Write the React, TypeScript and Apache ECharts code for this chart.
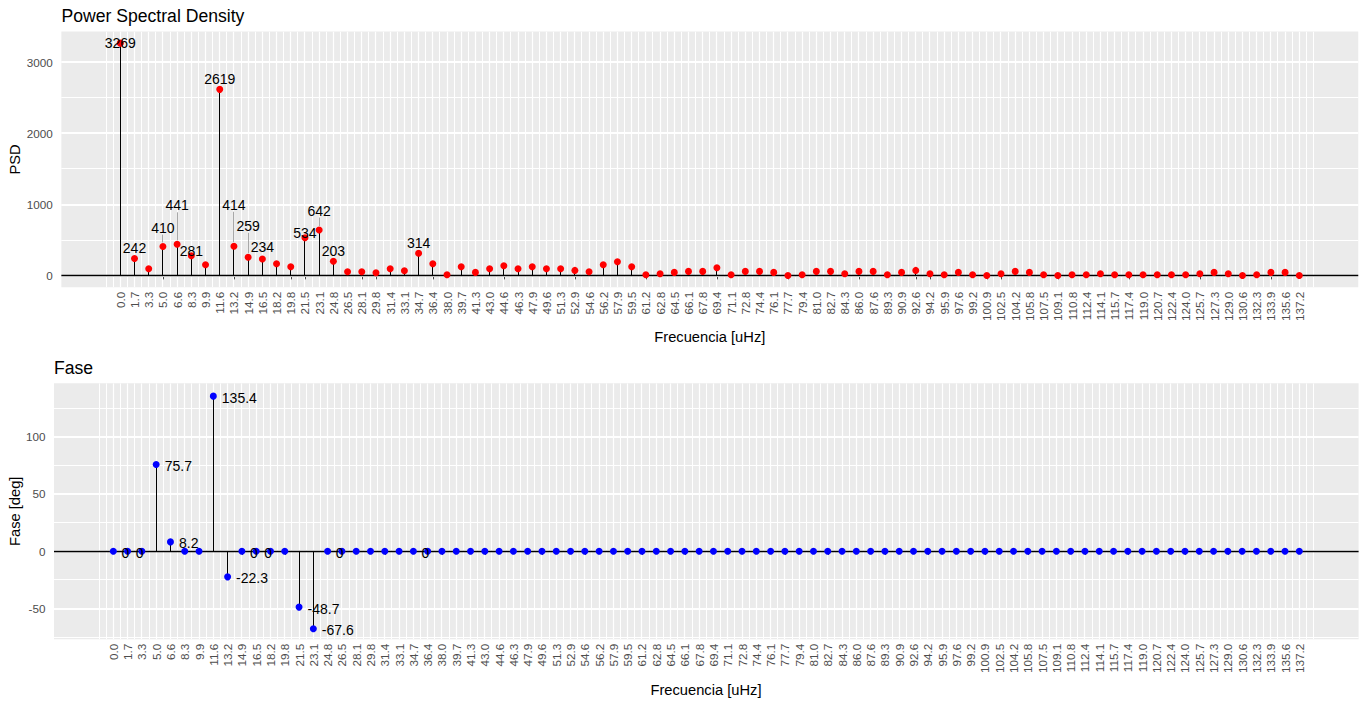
import React, { useEffect, useRef } from "react";
import * as echarts from "echarts";

// ---------- data ----------
const FREQ_LABELS = [
  "0.0", "1.7", "3.3", "5.0", "6.6", "8.3", "9.9", "11.6", "13.2", "14.9",
  "16.5", "18.2", "19.8", "21.5", "23.1", "24.8", "26.5", "28.1", "29.8", "31.4",
  "33.1", "34.7", "36.4", "38.0", "39.7", "41.3", "43.0", "44.6", "46.3", "47.9",
  "49.6", "51.3", "52.9", "54.6", "56.2", "57.9", "59.5", "61.2", "62.8", "64.5",
  "66.1", "67.8", "69.4", "71.1", "72.8", "74.4", "76.1", "77.7", "79.4", "81.0",
  "82.7", "84.3", "86.0", "87.6", "89.3", "90.9", "92.6", "94.2", "95.9", "97.6",
  "99.2", "100.9", "102.5", "104.2", "105.8", "107.5", "109.1", "110.8", "112.4", "114.1",
  "115.7", "117.4", "119.0", "120.7", "122.4", "124.0", "125.7", "127.3", "129.0", "130.6",
  "132.3", "133.9", "135.6", "137.2",
];

const PSD = [
  3269, 242, 98, 410, 441, 281, 154, 2619, 414, 259,
  234, 168, 126, 534, 642, 203, 56, 56, 42, 98,
  70, 314, 168, 14, 126, 46, 98, 140, 98, 126,
  98, 98, 74, 56, 154, 196, 126, 14, 28, 46,
  60, 60, 112, 14, 60, 60, 46, 2, 14, 60,
  60, 28, 60, 60, 14, 46, 74, 28, 14, 46,
  14, 2, 28, 60, 46, 14, 2, 14, 14, 28,
  14, 14, 14, 14, 14, 14, 28, 46, 28, 2,
  14, 46, 46, 2,
];

const PHASE = [
  0, 0, 0, 75.7, 8.2, 0, 0, 135.4, -22.3, 0,
  0, 0, 0, -48.7, -67.6, 0, 0, 0, 0, 0,
  0, 0, 0, 0, 0, 0, 0, 0, 0, 0,
  0, 0, 0, 0, 0, 0, 0, 0, 0, 0,
  0, 0, 0, 0, 0, 0, 0, 0, 0, 0,
  0, 0, 0, 0, 0, 0, 0, 0, 0, 0,
  0, 0, 0, 0, 0, 0, 0, 0, 0, 0,
  0, 0, 0, 0, 0, 0, 0, 0, 0, 0,
  0, 0, 0, 0,
];

const PSD_LABELED = [0, 1, 3, 4, 5, 7, 8, 9, 10, 13, 14, 15, 21];
const PHASE_LABELED = [1, 2, 3, 4, 7, 8, 10, 11, 13, 14, 16, 22];

const PSD_TICKS = [0, 1000, 2000, 3000];
const PSD_MINOR = [500, 1500, 2500];
const PHASE_TICKS = [-50, 0, 50, 100];
const PHASE_MINOR = [-75, -25, 25, 75, 125];

// ---------- styling / layout ----------
const FONT = "'Liberation Sans', Arial, Helvetica, sans-serif";
const PANEL_BG = "#EBEBEB";
const AXIS_TEXT = "#4D4D4D";
const TICK_COLOR = "#333333";
// vertical pixel offsets of the repelled PSD labels (label centre relative to point)
const PSD_LABEL_DY: Record<number, number> = {
  0: 0, 1: -10, 3: -19, 4: -39, 5: -5, 7: -10, 8: -41.5, 9: -31.5,
  10: -12, 13: -5, 14: -19.5, 15: -10, 21: -10,
};

const snap = (v: number) => Math.round(v - 0.5) + 0.5;

export default function App() {
  const ref = useRef<HTMLDivElement>(null);

  useEffect(() => {
    if (!ref.current) return;
    const chart = echarts.init(ref.current, undefined, { renderer: "svg" });

    const idx = FREQ_LABELS.map((_, i) => i);
    const n = FREQ_LABELS.length;
    const vGrid: number[][] = [];
    for (let k = -2; k <= 2 * n; k++) {
      const p = k / 2;
      const major = k % 2 === 0 && p >= 0 && p <= n - 1 ? 1 : 0;
      vGrid.push([p, 0, major]);
    }

    const xAxisBase = (gi: number) => ({
      type: "value",
      gridIndex: gi,
      min: -4.15,
      max: n - 1 + 4.15,
      axisLine: { show: false },
      axisTick: {
        show: true,
        customValues: idx,
        length: 3.7,
        lineStyle: { color: TICK_COLOR, width: 1 },
      },
      axisLabel: {
        customValues: idx,
        rotate: 90,
        margin: 4.5,
        color: AXIS_TEXT,
        fontSize: 11.7,
        fontFamily: FONT,
        formatter: (v: number) => FREQ_LABELS[Math.round(v)] ?? "",
      },
      splitLine: { show: false },
      minorSplitLine: { show: false },
    });

    const yAxisBase = (gi: number, min: number, max: number, ticks: number[]) => ({
      type: "value",
      gridIndex: gi,
      min,
      max,
      axisLine: { show: false },
      axisTick: {
        show: true,
        customValues: ticks,
        length: 4,
        lineStyle: { color: TICK_COLOR, width: 1 },
      },
      axisLabel: {
        customValues: ticks,
        margin: 8.5,
        color: AXIS_TEXT,
        fontSize: 11.7,
        fontFamily: FONT,
        formatter: (v: number) => String(v),
      },
      splitLine: { show: false },
      minorSplitLine: { show: false },
    });

    const gridSeries = (gi: number, major: number[], minor: number[]) => [
      {
        type: "custom",
        xAxisIndex: gi,
        yAxisIndex: gi,
        z: 1,
        silent: true,
        clip: true,
        data: vGrid,
        encode: { x: 0, y: 1 },
        renderItem: (params: any, api: any) => {
          const cs = params.coordSys;
          const x = snap(api.coord([api.value(0), 0])[0]);
          const isMajor = api.value(2) === 1;
          return {
            type: "line",
            shape: { x1: x, y1: cs.y, x2: x, y2: cs.y + cs.height },
            style: { stroke: "#FFFFFF", lineWidth: isMajor ? 1.2 : 1 },
          };
        },
      },
      {
        type: "custom",
        xAxisIndex: gi,
        yAxisIndex: gi,
        z: 1,
        silent: true,
        clip: true,
        data: [...major.map((v) => [0, v, 1]), ...minor.map((v) => [0, v, 0])],
        encode: { x: 0, y: 1 },
        renderItem: (params: any, api: any) => {
          const cs = params.coordSys;
          const isMajor = api.value(2) === 1;
          const yRaw = api.coord([0, api.value(1)])[1];
          const y = isMajor ? Math.round(yRaw) : snap(yRaw);
          return {
            type: "line",
            shape: { x1: cs.x, y1: y, x2: cs.x + cs.width, y2: y },
            style: { stroke: "#FFFFFF", lineWidth: isMajor ? 2 : 1 },
          };
        },
      },
      {
        // horizontal reference line at 0
        type: "custom",
        xAxisIndex: gi,
        yAxisIndex: gi,
        z: 2,
        silent: true,
        data: [[0, 0]],
        encode: { x: 0, y: 1 },
        renderItem: (params: any, api: any) => {
          const cs = params.coordSys;
          const y = snap(api.coord([0, 0])[1]);
          return {
            type: "line",
            shape: { x1: cs.x, y1: y, x2: cs.x + cs.width, y2: y },
            style: { stroke: "#000000", lineWidth: 1.3 },
          };
        },
      },
    ];

    const stemSeries = (gi: number, values: number[]) => ({
      type: "custom",
      xAxisIndex: gi,
      yAxisIndex: gi,
      z: 2,
      silent: true,
      data: values.map((v, i) => [i, v]),
      encode: { x: 0, y: 1 },
      renderItem: (params: any, api: any) => {
        const p0 = api.coord([api.value(0), 0]);
        const p1 = api.coord([api.value(0), api.value(1)]);
        const x = snap(p0[0]);
        return {
          type: "line",
          shape: { x1: x, y1: p0[1], x2: x, y2: p1[1] },
          style: { stroke: "#000000", lineWidth: 1 },
        };
      },
    });

    const labelFont = { color: "#000000", fontSize: 14, fontFamily: FONT };

    const psdPoints = PSD.map((v, i) =>
      PSD_LABELED.includes(i)
        ? {
            value: [i, v],
            label: {
              show: true,
              formatter: String(v),
              position: "inside",
              offset: [0, PSD_LABEL_DY[i] ?? -10],
              ...labelFont,
            },
          }
        : { value: [i, v] }
    );

    const phasePoints = PHASE.map((v, i) => {
      if (!PHASE_LABELED.includes(i)) return { value: [i, v] };
      if (v === 0) {
        return {
          value: [i, v],
          label: {
            show: true,
            formatter: "0",
            position: "inside",
            offset: [-2.3, 2.2],
            ...labelFont,
          },
        };
      }
      return {
        value: [i, v],
        label: {
          show: true,
          formatter: v.toFixed(1),
          position: "right",
          distance: 5,
          offset: [0, 1.5],
          ...labelFont,
        },
      };
    });

    const segData = PSD_LABELED.filter((i) => Math.abs(PSD_LABEL_DY[i] ?? 0) > 15).map(
      (i) => [i, PSD[i], PSD_LABEL_DY[i]]
    );

    const option: any = {
      animation: false,
      backgroundColor: "#FFFFFF",
      textStyle: { fontFamily: FONT },
      grid: [
        {
          left: 61.35,
          right: 7.75,
          top: 31.5,
          height: 255.8,
          show: true,
          backgroundColor: PANEL_BG,
          borderWidth: 0,
          containLabel: false,
          outerBoundsMode: "none",
        },
        {
          left: 54,
          right: 7.4,
          top: 383.3,
          height: 256,
          show: true,
          backgroundColor: PANEL_BG,
          borderWidth: 0,
          containLabel: false,
          outerBoundsMode: "none",
        },
      ],
      xAxis: [xAxisBase(0), xAxisBase(1)],
      yAxis: [
        yAxisBase(0, -163.45, 3432.45, PSD_TICKS),
        yAxisBase(1, -76.8, 146.6, PHASE_TICKS),
      ],
      series: [
        ...gridSeries(0, PSD_TICKS, PSD_MINOR),
        ...gridSeries(1, PHASE_TICKS, PHASE_MINOR),
        stemSeries(0, PSD),
        stemSeries(1, PHASE),
        {
          // repel segments from labels to points
          type: "custom",
          xAxisIndex: 0,
          yAxisIndex: 0,
          z: 2,
          silent: true,
          data: segData,
          encode: { x: 0, y: 1 },
          renderItem: (params: any, api: any) => {
            const p = api.coord([api.value(0), api.value(1)]);
            const dy = api.value(2);
            const x = snap(p[0]);
            return {
              type: "line",
              shape: { x1: x, y1: p[1] - 4, x2: x, y2: p[1] + dy + 7 },
              style: { stroke: "#A8A8A8", lineWidth: 1 },
            };
          },
        },
        {
          type: "scatter",
          xAxisIndex: 0,
          yAxisIndex: 0,
          z: 3,
          silent: true,
          symbol: "circle",
          symbolSize: 7,
          itemStyle: { color: "#FF0000", opacity: 1 },
          label: { show: false },
          data: psdPoints,
        },
        {
          type: "scatter",
          xAxisIndex: 1,
          yAxisIndex: 1,
          z: 3,
          silent: true,
          symbol: "circle",
          symbolSize: 7,
          itemStyle: { color: "#0000FF", opacity: 1 },
          label: { show: false },
          data: phasePoints,
        },
      ],
      graphic: [
        {
          type: "text",
          left: 61.5,
          top: 7,
          style: { text: "Power Spectral Density", fill: "#000", fontSize: 17.6, fontFamily: FONT },
        },
        {
          type: "text",
          left: 54,
          top: 358.5,
          style: { text: "Fase", fill: "#000", fontSize: 17.6, fontFamily: FONT },
        },
        {
          type: "text",
          x: 709.8,
          y: 337,
          style: {
            text: "Frecuencia [uHz]",
            fill: "#000",
            fontSize: 14.7,
            fontFamily: FONT,
            align: "center",
            verticalAlign: "middle",
          },
        },
        {
          type: "text",
          x: 706,
          y: 690,
          style: {
            text: "Frecuencia [uHz]",
            fill: "#000",
            fontSize: 14.7,
            fontFamily: FONT,
            align: "center",
            verticalAlign: "middle",
          },
        },
        {
          type: "text",
          x: 15,
          y: 159.4,
          rotation: Math.PI / 2,
          style: {
            text: "PSD",
            fill: "#000",
            fontSize: 14.7,
            fontFamily: FONT,
            align: "center",
            verticalAlign: "middle",
          },
        },
        {
          type: "text",
          x: 15,
          y: 511.3,
          rotation: Math.PI / 2,
          style: {
            text: "Fase [deg]",
            fill: "#000",
            fontSize: 14.7,
            fontFamily: FONT,
            align: "center",
            verticalAlign: "middle",
          },
        },
      ],
    };

    chart.setOption(option);
    return () => chart.dispose();
  }, []);

  return (
    <div
      ref={ref}
      style={{ position: "absolute", left: 0, top: 0, width: 1366, height: 705 }}
    />
  );
}
